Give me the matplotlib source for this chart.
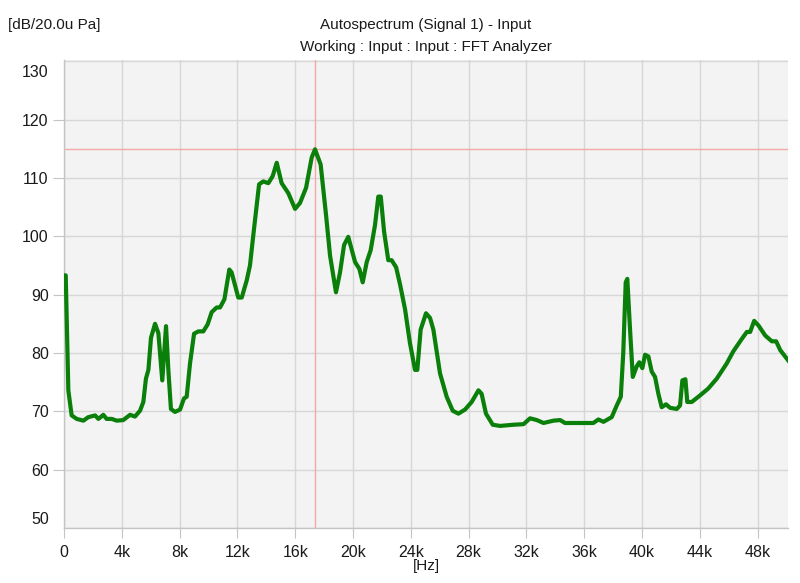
import numpy as np
import matplotlib.pyplot as plt
import matplotlib.transforms as mtransforms

# frequency [kHz] and level [dB re 20 uPa]
freq_k = [0.0, 0.12, 0.3, 0.53, 0.88, 1.34, 1.68, 2.15, 2.38, 2.72, 2.95, 3.3, 3.65,
          4.1, 4.57, 4.91, 5.26, 5.49, 5.67, 5.84, 6.02, 6.3, 6.53, 6.8, 7.06, 7.22,
          7.4, 7.68, 8.03, 8.3, 8.49, 8.72, 9.0, 9.3, 9.64, 9.94, 10.22, 10.57, 10.8,
          11.1, 11.44, 11.6, 12.06, 12.3, 12.64, 12.87, 13.1, 13.5, 13.79, 14.14,
          14.44, 14.72, 15.06, 15.52, 15.99, 16.33, 16.75, 17.14, 17.37, 17.76,
          18.13, 18.41, 18.82, 19.1, 19.38, 19.67, 20.14, 20.44, 20.67, 20.95, 21.22,
          21.52, 21.75, 21.92, 22.15, 22.44, 22.67, 22.98, 23.25, 23.6, 23.94, 24.29,
          24.45, 24.68, 25.05, 25.33, 25.56, 26.02, 26.48, 26.9, 27.29, 27.75, 28.21,
          28.68, 28.9, 29.2, 29.67, 30.17, 31.1, 31.8, 32.25, 32.72, 33.18, 33.87,
          34.33, 34.67, 35.7, 36.63, 36.98, 37.33, 37.9, 38.25, 38.53, 38.7, 38.87,
          38.98, 39.17, 39.36, 39.63, 39.81, 40.02, 40.21, 40.44, 40.67, 40.9, 41.13,
          41.36, 41.66, 41.94, 42.4, 42.63, 42.79, 43.0, 43.13, 43.44, 44.0, 44.58,
          45.17, 45.86, 46.32, 46.9, 47.25, 47.48, 47.76, 48.06, 48.52, 48.98, 49.28,
          49.56, 50.12]
level_db = [93.3, 93.3, 73.6, 69.3, 68.7, 68.4, 69.0, 69.3, 68.7, 69.4, 68.7, 68.7, 68.4,
            68.5, 69.4, 69.1, 70.1, 71.6, 75.6, 77.1, 82.6, 85.0, 83.4, 75.3, 84.6, 77.1,
            70.4, 69.9, 70.3, 72.2, 72.5, 78.2, 83.3, 83.7, 83.7, 84.9, 87.0, 87.8, 87.8,
            89.2, 94.3, 93.8, 89.5, 89.5, 92.4, 95.0, 100.2, 108.9, 109.4, 109.1,
            110.3, 112.6, 109.1, 107.4, 104.7, 105.7, 108.3, 113.5, 114.9, 112.3,
            103.7, 96.7, 90.4, 93.8, 98.5, 99.9, 95.6, 94.4, 92.1, 95.6, 97.6,
            101.9, 106.8, 106.8, 100.8, 95.9, 95.9, 94.7, 91.8, 87.5, 81.7, 77.1,
            77.1, 84.0, 86.8, 86.0, 84.0, 76.5, 72.5, 70.1, 69.6, 70.3, 71.6,
            73.6, 73.0, 69.6, 67.7, 67.5, 67.7, 67.8, 68.8, 68.5, 68.0, 68.4,
            68.5, 68.0, 68.0, 68.0, 68.6, 68.2, 69.0, 71.0, 72.5, 80.0, 92.1,
            92.7, 84.0, 75.9, 77.7, 78.4, 77.4, 79.7, 79.4, 76.8, 75.9, 73.0,
            70.7, 71.2, 70.6, 70.4, 71.0, 75.3, 75.5, 71.6, 71.6, 72.7, 73.9,
            75.6, 78.2, 80.3, 82.4, 83.6, 83.6, 85.5, 84.7, 83.0, 82.0, 82.0,
            80.5, 78.7]

cursor_hz = 17370
cursor_db = 115.0

x_ticks = np.arange(0, 48001, 4000)
x_labels = ['0' if t == 0 else f'{t // 1000}k' for t in x_ticks]
y_ticks = np.arange(50, 131, 10)

plt.rcParams['font.family'] = ['Liberation Sans', 'DejaVu Sans']
plt.rcParams['font.size'] = 11

fig = plt.figure(figsize=(8, 5.83), dpi=100)
ax = fig.add_axes([0.08, 0.0943, 0.905, 0.8027])
ax.set_facecolor('#f3f3f3')

ax.plot(np.array(freq_k) * 1000, level_db, color='#0a7f0a', lw=3.0,
        solid_joinstyle='round', zorder=3)

# cursor lines
ax.axvline(cursor_hz, color='#f3a9a9', lw=1, zorder=2)
ax.axhline(cursor_db, color='#f3a9a9', lw=1, zorder=2)

ax.set_xlim(0, 50100)
ax.set_ylim(50, 130.2)
ax.set_xticks(x_ticks)
ax.set_xticklabels(x_labels)
ax.set_yticks(y_ticks)

ax.grid(True, color='#d6d6d6', lw=1, zorder=1)
ax.set_axisbelow(True)
for s in ['top', 'right']:
    ax.spines[s].set_visible(False)
for s in ['left', 'bottom']:
    ax.spines[s].set_color('#c4c4c4')
    ax.spines[s].set_linewidth(1)
ax.tick_params(axis='both', colors='#c4c4c4', labelcolor='#1a1a1a', labelsize=11.5)
ax.tick_params(axis='x', length=7, pad=5)
ax.tick_params(axis='y', length=8, pad=3)

# end labels sit inside the range, as in the analyzer display
yt = ax.yaxis.get_major_ticks()
yt[0].tick1line.set_visible(False)
yt[-1].tick1line.set_visible(False)
lab_lo = yt[0].label1
lab_hi = yt[-1].label1
lab_lo.set_transform(lab_lo.get_transform() + mtransforms.ScaledTranslation(0, 10 / 100, fig.dpi_scale_trans))
lab_hi.set_transform(lab_hi.get_transform() + mtransforms.ScaledTranslation(0, -10 / 100, fig.dpi_scale_trans))

fig.text(0.01, 0.957, '[dB/20.0u Pa]', ha='left', va='center', fontsize=11, color='#1a1a1a')
fig.text(0.5325, 0.957, 'Autospectrum (Signal 1) - Input', ha='center', va='center',
         fontsize=11, color='#1a1a1a')
fig.text(0.5325, 0.919, 'Working : Input : Input : FFT Analyzer', ha='center', va='center',
         fontsize=11, color='#1a1a1a')
fig.text(0.5325, 0.029, '[Hz]', ha='center', va='center', fontsize=11, color='#1a1a1a')

fig.savefig('out.png', dpi=100)
